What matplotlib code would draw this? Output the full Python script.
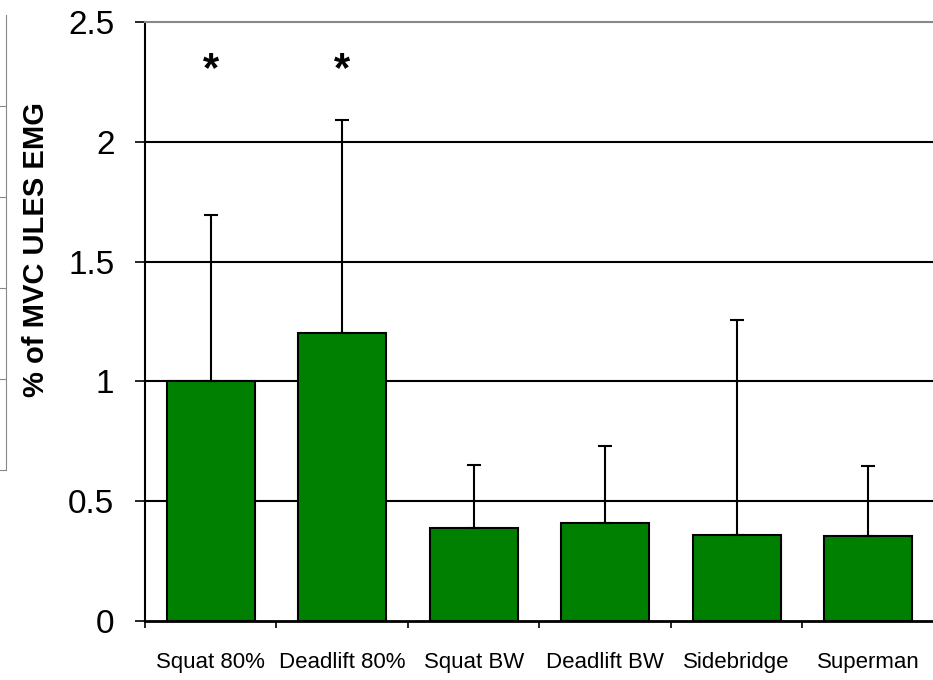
import matplotlib.pyplot as plt

plt.rcParams['font.family'] = ['Liberation Sans', 'DejaVu Sans']

exercises = ['Squat 80%', 'Deadlift 80%', 'Squat BW', 'Deadlift BW', 'Sidebridge', 'Superman']
means = [1.00, 1.20, 0.39, 0.41, 0.36, 0.355]
sd = [0.695, 0.89, 0.26, 0.32, 0.895, 0.29]
signif = ['*', '*', '', '', '', '']

fig = plt.figure(figsize=(9.33, 6.8), dpi=100)
ax = fig.add_axes([0.1554, 0.0868, 0.8456, 0.8808])

pos = [i + 0.5 for i in range(len(exercises))]
ax.bar(pos, means, width=0.667, color='#008000', edgecolor='black', linewidth=1.5, zorder=3)
ax.errorbar(pos, means, yerr=[[0] * len(sd), sd], fmt='none', ecolor='black',
            elinewidth=1.5, capsize=5, capthick=1.5, zorder=4)

for p, s in zip(pos, signif):
    if s:
        ax.text(p, 2.30, s, ha='center', va='center', fontsize=30, fontweight='bold')

ax.set_xlim(0, 6)
ax.set_ylim(0, 2.5)
ax.set_yticks([0, 0.5, 1, 1.5, 2, 2.5])
ax.set_yticklabels(['0', '0.5', '1', '1.5', '2', '2.5'], fontsize=24)
ax.tick_params(axis='y', direction='out', length=7, width=1.2, pad=15)
ax.set_xticks(pos)
ax.set_xticklabels(exercises, fontsize=16)
ax.tick_params(axis='x', which='major', length=0, pad=22)
ax.set_xticks(range(7), minor=True)
ax.tick_params(axis='x', which='minor', direction='out', length=5, width=1.2)

for y in [0.5, 1, 1.5, 2]:
    ax.axhline(y, color='black', linewidth=1.5, zorder=1)

ax.spines['left'].set_linewidth(1.5)
ax.spines['bottom'].set_linewidth(2)
ax.spines['top'].set_color('#888888')
ax.spines['top'].set_linewidth(1.5)
ax.spines['right'].set_visible(False)

ax.set_ylabel('% of MVC ULES EMG', fontsize=21, fontweight='bold')
ax.yaxis.set_label_coords(-0.12, 0.62)

# leftover edge of the neighbouring chart
edge = fig.add_axes([0, 0.309, 0.0065, 0.669])
edge.set_ylim(0, 5)
edge.set_yticks([0, 1, 2, 3, 4])
edge.yaxis.tick_right()
edge.tick_params(axis='y', direction='in', length=5, color='#888888', labelright=False)
edge.set_xticks([])
for side in ['left', 'top', 'bottom']:
    edge.spines[side].set_visible(False)
edge.spines['right'].set_color('#888888')
edge.patch.set_alpha(0)

fig.savefig('out.png', dpi=100)
